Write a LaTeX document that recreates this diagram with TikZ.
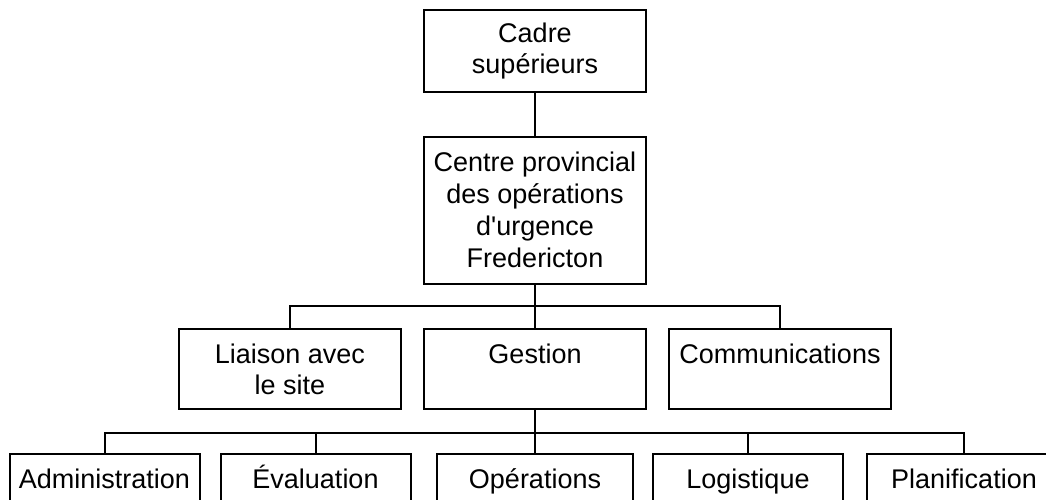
\documentclass[tikz,border=0pt]{standalone}
\usepackage{fontspec}
\setmainfont{Liberation Sans}
\tikzset{
  box/.style={draw, line width=2pt, align=center, inner sep=0pt,
    minimum width=222pt, font=\fontsize{27}{31}\selectfont},
  lowbox/.style={box, minimum width=190pt, minimum height=54pt,
    text height=20pt, text depth=6pt},
  link/.style={line width=2pt}
}
\begin{document}
\begin{tikzpicture}[x=1pt,y=-1pt]
      \useasboundingbox (0,0) rectangle (1046,500);
      \node[box, minimum height=82pt] (cadre) at (535,51) {Cadre\\supérieurs};
      \node[box, minimum height=147pt, font=\fontsize{27}{32}\selectfont] (centre) at (535,210) {Centre provincial\\des opérations\\d\textquotesingle urgence\\Fredericton};
      \node[box, minimum height=80pt] (liaison) at (290,369) {Liaison avec\\le site};
      \node[box, minimum height=80pt] (gestion) at (535,369) {Gestion\\\mbox{}};
      \node[box, minimum height=80pt] (comm) at (780,369) {Communications\\\mbox{}};
      \node[lowbox] (admin) at (104.5,481) {Administration};
      \node[lowbox] (eval) at (315.5,481) {Évaluation};
      \node[lowbox, minimum width=196pt] (oper) at (535,481) {Opérations};
      \node[lowbox] (logi) at (748,481) {Logistique};
      \node[lowbox, minimum width=194pt] (plan) at (964,481) {Planification};
      \coordinate (j1) at (535,306);
      \coordinate (j2) at (535,433);
      \draw[link] (cadre) -- (centre);
      \draw[link] (centre) -- (gestion);
      \draw[link] (liaison.north) |- (j1) -| (comm.north);
      \draw[link] (gestion) -- (oper);
      \draw[link] (admin.north) |- (j2) -| (plan.north);
      \draw[link] (eval.north) |- (j2);
      \draw[link] (logi.north) |- (j2);
    \end{tikzpicture}
\end{document}
